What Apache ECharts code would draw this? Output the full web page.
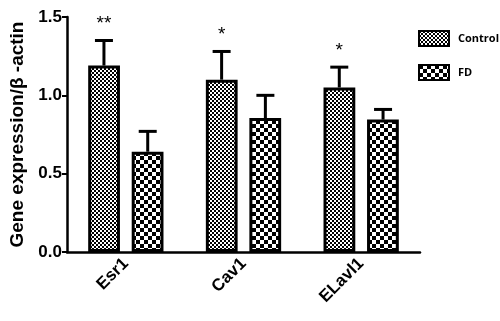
<!DOCTYPE html>
<html>
<head>
<meta charset="utf-8">
<script src="https://cdn.jsdelivr.net/npm/echarts@6/dist/echarts.min.js"></script>
<style>
  html, body { margin: 0; padding: 0; background: #fff; }
  #chart { width: 500px; height: 321px; }
</style>
</head>
<body>
<div id="chart"></div>
<script>
  // 数据
  var categories = ['Esr1', 'Cav1', 'ELavl1'];
  var controlMean = [1.19, 1.10, 1.05];
  var controlTop = [1.35, 1.28, 1.18];
  var fdMean = [0.64, 0.855, 0.845];
  var fdTop = [0.77, 1.00, 0.91];
  var marks = ['**', '*', '*'];
  var yTicks = [0, 0.5, 1.0, 1.5];

  function makePattern(cell) {
    var c = document.createElement('canvas');
    c.width = cell * 2;
    c.height = cell * 2;
    var ctx = c.getContext('2d');
    ctx.fillStyle = '#fff';
    ctx.fillRect(0, 0, c.width, c.height);
    ctx.fillStyle = '#000';
    ctx.fillRect(0, 0, cell, cell);
    ctx.fillRect(cell, cell, cell, cell);
    return c;
  }

  var fineCheck = makePattern(2);
  var bigCheck = makePattern(4);

  var BAR_W = 0.27;   // 柱宽占类目宽比例
  var OFFSET = 0.186; // 柱中心偏移比例

  function errData(tops, means) {
    return tops.map(function (t, i) {
      return [i, means[i], t];
    });
  }

  function errSeries(name, tops, means, dir, withMarks) {
    return {
      type: 'custom',
      name: name + '_err',
      z: 1,
      silent: true,
      data: errData(tops, means),
      renderItem: function (params, api) {
        var idx = api.value(0);
        var band = api.size([1, 0])[0];
        var base = api.coord([idx, api.value(1)]);
        var top = api.coord([idx, api.value(2)]);
        var x = base[0] + dir * OFFSET * band;
        var cap = 9;
        var children = [
          { type: 'line', shape: { x1: x, y1: base[1], x2: x, y2: top[1] }, style: { stroke: '#000', lineWidth: 3 } },
          { type: 'line', shape: { x1: x - cap, y1: top[1], x2: x + cap, y2: top[1] }, style: { stroke: '#000', lineWidth: 3 } }
        ];
        if (withMarks) {
          children.push({
            type: 'text',
            style: {
              text: marks[idx], x: x, y: top[1] - 7,
              align: 'center', verticalAlign: 'bottom',
              font: '19px "Liberation Sans"', fill: '#000'
            }
          });
        }
        return { type: 'group', children: children };
      }
    };
  }

  var chart = echarts.init(document.getElementById('chart'));
  chart.setOption({
    animation: false,
    backgroundColor: '#fff',
    grid: { left: 65, right: 80, top: 17, bottom: 69 },
    legend: {
      orient: 'vertical',
      left: 418,
      top: 30,
      padding: 0,
      icon: 'rect',
      itemWidth: 30,
      itemHeight: 15,
      itemGap: 17,
      data: ['Control', 'FD'],
      textStyle: { fontFamily: 'Open Sans', fontWeight: 'bold', fontSize: 11, color: '#000', padding: [0, 0, 0, 4] }
    },
    xAxis: {
      type: 'category',
      data: categories,
      axisLine: { lineStyle: { color: '#000', width: 2.5 } },
      axisTick: { alignWithLabel: true, length: 6, lineStyle: { color: '#000', width: 2 } },
      axisLabel: { rotate: 45, margin: 9, color: '#000', fontFamily: 'Liberation Sans', fontWeight: 'bold', fontSize: 17 }
    },
    yAxis: {
      type: 'value',
      min: 0,
      max: 1.5,
      interval: 0.5,
      name: 'Gene expression/β -actin',
      nameLocation: 'middle',
      nameGap: 40,
      nameTextStyle: { color: '#000', fontFamily: 'Liberation Sans', fontWeight: 'bold', fontSize: 19 },
      splitLine: { show: false },
      axisLine: { show: true, lineStyle: { color: '#000', width: 2.5 } },
      axisTick: { show: true, length: 5, lineStyle: { color: '#000', width: 2 } },
      axisLabel: {
        margin: 5, color: '#000', fontFamily: 'Liberation Sans', fontWeight: 'bold', fontSize: 17,
        formatter: function (v) { return yTicks.indexOf(v) >= 0 ? v.toFixed(1) : ''; }
      }
    },
    series: [
      {
        name: 'Control',
        type: 'bar',
        z: 2,
        barWidth: (BAR_W * 100) + '%',
        barGap: '37%',
        data: controlMean,
        itemStyle: { color: { image: fineCheck, repeat: 'repeat' }, borderColor: '#000', borderWidth: 3 }
      },
      {
        name: 'FD',
        type: 'bar',
        z: 2,
        barWidth: (BAR_W * 100) + '%',
        data: fdMean,
        itemStyle: { color: { image: bigCheck, repeat: 'repeat' }, borderColor: '#000', borderWidth: 3 }
      },
      errSeries('Control', controlTop, controlMean, -1, true),
      errSeries('FD', fdTop, fdMean, 1, false)
    ]
  });
</script>
</body>
</html>
